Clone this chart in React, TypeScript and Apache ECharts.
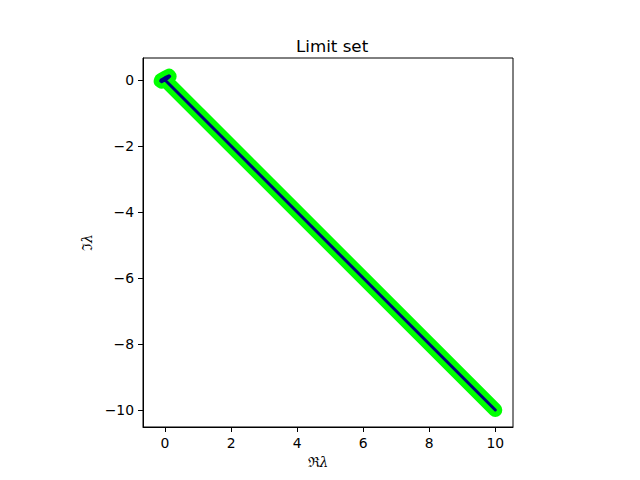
import React, { useEffect, useRef } from "react";
import * as echarts from "echarts";

const titleText = "Limit set";
const xTicks = [0, 2, 4, 6, 8, 10];
const yTicks = [0, -2, -4, -6, -8, -10];
// real and imaginary parts of the limit set points
const reVals = [0, -0.1, -0.13, -0.12, 0.0, 0.12, 0.14, 0.1, 0.0, 2, 4, 6, 8, 10];
const imVals = [0, -0.05, -0.03, 0.0, 0.07, 0.13, 0.11, 0.07, 0, -2, -4, -6, -8, -10];

const fmt = (v: number) => (v < 0 ? "\u2212" + String(-v) : String(v));

export default function App() {
  const ref = useRef<HTMLDivElement>(null);
  useEffect(() => {
    if (!ref.current) return;
    const chart = echarts.init(ref.current, null, { renderer: "svg" });
    const pts = reVals.map((r, i) => [r, imVals[i]]);
    const font = "DejaVu Sans";
    chart.setOption({
      animation: false,
      backgroundColor: "#ffffff",
      title: {
        text: titleText,
        left: 291,
        top: 32,
        textStyle: { fontFamily: font, fontSize: 16.7, fontWeight: "normal", color: "#000" },
      },
      grid: {
        left: 143,
        top: 58,
        width: 370,
        height: 369,
        show: true,
        borderColor: "#000",
        borderWidth: 1,
        containLabel: false,
      },
      xAxis: {
        type: "value",
        min: -0.667,
        max: 10.536,
        splitLine: { show: false },
        axisLine: { show: true, onZero: false, lineStyle: { color: "#000", width: 1 } },
        axisTick: { show: true, length: 5, inside: false, customValues: xTicks, lineStyle: { color: "#000" } },
        axisLabel: {
          customValues: xTicks,
          formatter: fmt,
          margin: 9,
          color: "#000",
          fontFamily: font,
          fontSize: 13.9,
        },
        name: "{r|ℜ}{l|λ}",
        nameLocation: "middle",
        nameGap: 35,
        nameTextStyle: {
          color: "#000",
          verticalAlign: "middle",
          padding: [0, 20, 0, 0],
          rich: {
            r: { fontFamily: "DejaVu Serif", fontSize: 13.9, color: "#000" },
            l: { fontFamily: "DejaVu Serif", fontStyle: "italic", fontSize: 13.9, color: "#000" },
          },
        },
      },
      yAxis: {
        type: "value",
        min: -10.515,
        max: 0.667,
        splitLine: { show: false },
        axisLine: { show: true, onZero: false, lineStyle: { color: "#000", width: 1 } },
        axisTick: { show: true, length: 5, inside: false, customValues: yTicks, lineStyle: { color: "#000" } },
        axisLabel: {
          customValues: yTicks,
          formatter: fmt,
          margin: 9,
          color: "#000",
          fontFamily: font,
          fontSize: 13.9,
        },
        name: "{r|ℑ}{l|λ}",
        nameLocation: "middle",
        nameGap: 56,
        nameRotate: 90,
        nameTextStyle: {
          color: "#000",
          verticalAlign: "middle",
          rich: {
            r: { fontFamily: "DejaVu Serif", fontSize: 13.9, color: "#000" },
            l: { fontFamily: "DejaVu Serif", fontStyle: "italic", fontSize: 13.9, color: "#000" },
          },
        },
      },
      series: [
        {
          type: "line",
          data: pts,
          symbol: "none",
          lineStyle: { color: "#00ff00", width: 14, cap: "round", join: "round" },
          z: 2,
        },
        {
          type: "line",
          data: pts,
          symbol: "none",
          lineStyle: { color: "#000080", width: 3, cap: "round", join: "round" },
          z: 3,
        },
      ],
    });
    return () => chart.dispose();
  }, []);
  return (
    <div
      ref={ref}
      style={{ position: "absolute", left: 0, top: 0, width: 640, height: 480 }}
    />
  );
}
